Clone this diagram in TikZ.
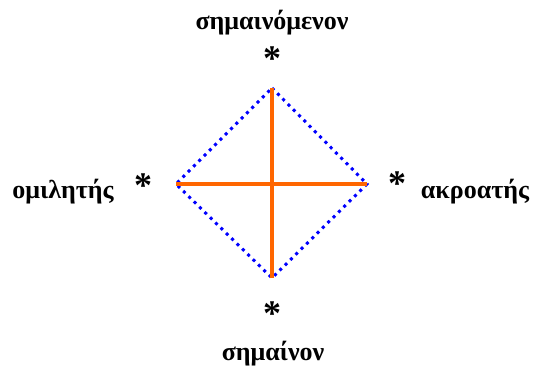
\documentclass[tikz,border=0pt]{standalone}
\usepackage{fontspec}
\setmainfont{Liberation Serif}
\usepackage{tikz}
\usetikzlibrary{positioning}
\definecolor{crosscol}{RGB}{255, 102, 0}
\definecolor{dotcol}{RGB}{0, 0, 255}

\begin{document}
\begin{tikzpicture}[
        x=1pt, y=-1pt,
        label/.style={font=\bfseries\fontsize{26}{30}\selectfont, inner sep=0pt},
        star/.style={font=\bfseries\fontsize{36}{40}\selectfont, inner sep=0pt},
        edge/.style={dotcol, line width=3pt, dash pattern=on 3pt off 4.5pt},
        cross/.style={crosscol, line width=3.5pt}
    ]
    \useasboundingbox (0,0) rectangle (537,368);

    % Corners of the square
    \coordinate (top) at (272,88);
    \coordinate (bottom) at (272,278);
    \coordinate (left) at (176,184);
    \coordinate (right) at (367,184);

    % Stars
    \node[star] (stop) at (272,59) {*};
    \node[star] (sleft) at (143,186) {*};
    \node[star] (sright) at (397,184) {*};
    \node[star] (sbottom) at (272,314) {*};

    % Labels
    \node[label] (signified) at (272,23) {σημαινόμενον};
    \node[label] (speaker) at (63,192) {ομιλητής};
    \node[label] (hearer) at (475,192) {ακροατής};
    \node[label] (signifier) at (273,354) {σημαίνον};

    % Square
    \draw[edge] (top) -- (right) -- (bottom) -- (left) -- cycle;

    % Cross
    \draw[cross] (top) -- (bottom);
    \draw[cross] (left) -- (right);
\end{tikzpicture}
\end{document}
